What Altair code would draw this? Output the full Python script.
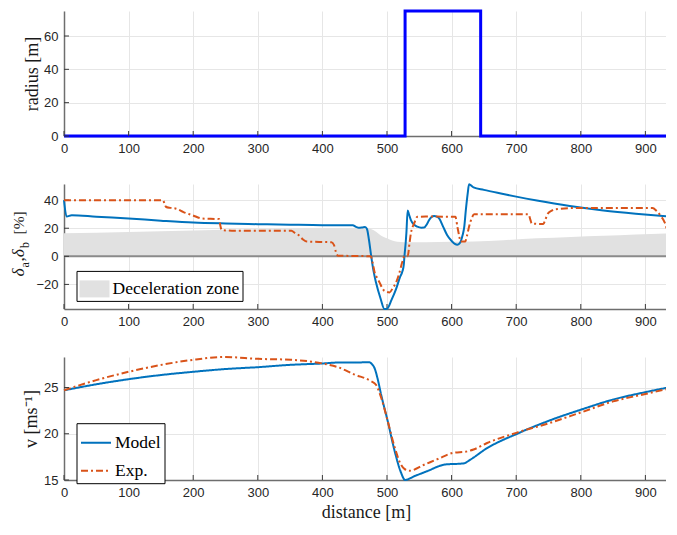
import altair as alt
import pandas as pd

# ---------------- data ----------------
X_MAX = 935
X_TICKS = [0, 100, 200, 300, 400, 500, 600, 700, 800, 900]
R_TICKS = [0, 20, 40, 60]
D_TICKS = [-20, 0, 20, 40]
V_TICKS = [15, 20, 25]

radius_dist = [0, 528, 528, 645, 645, 935]
radius_val = [0, 0, 75, 75, 0, 0]

delta_model_dist = [0, 4, 12, 50, 100, 150, 200, 250, 300, 350, 400, 447, 452, 456, 462, 466, 469,
                    472, 475.6, 479, 483, 490, 496, 500, 507, 514, 520, 524, 526, 527, 529, 530,
                    532, 534, 537, 542, 547, 553, 557.5, 562, 565, 569, 573, 577, 581, 587, 593,
                    600, 605, 609, 612, 614, 617, 619.6, 622, 625, 627, 630, 634, 650, 680, 700,
                    732, 783, 835, 885, 935]
delta_model_val = [40, 28.3, 29.3, 28.2, 26.9, 25.4, 24.1, 23.4, 22.9, 22.5, 22.2, 22.2, 21.0, 20.3,
                   20.6, 20.9, 19.5, 12, 0, -10, -18.7, -30, -37.5, -37.3, -31, -23.4, -15, -10.5,
                   -6, 0, 10, 16.4, 32.7, 30, 25.7, 22.5, 21.1, 20.4, 20.5, 23, 25.7, 28, 28.8,
                   28.3, 26.9, 21, 15.2, 11, 8.8, 8.2, 9, 10.5, 15, 21, 32.7, 45, 51.4, 50.5,
                   49.1, 47.3, 44.4, 42.5, 39.7, 35.8, 32.7, 30.4, 28.5]

delta_exp_dist = [0, 153, 156, 158, 165, 173.6, 185, 199, 214, 240, 242, 244, 260, 352, 358, 363,
                  370, 376, 414, 418, 421, 424, 475, 478, 481, 485, 488.6, 492, 496, 504, 509, 514,
                  519, 524, 527, 532, 535, 537, 542, 547, 560, 606, 609, 612, 614, 621, 624, 627,
                  631, 635, 719, 722, 724, 742, 745, 749, 755, 760, 793, 911, 917, 923, 930, 935]
delta_exp_val = [40, 40, 37, 35.1, 34.5, 33.9, 31.5, 29.2, 26.9, 26.5, 22, 18.7, 18.3, 18.2, 16.5,
                 15.2, 12, 10.5, 10.0, 8, 3, 0.5, 0, -5, -11.7, -15.5, -18.7, -22, -24.6, -25.7,
                 -22.5, -18.7, -12, -3.5, 0, 0, 10, 16.4, 23.4, 28.1, 28.3, 28.1, 21, 14, 10.5,
                 10.5, 15, 21, 27, 29.9, 30, 26, 23.4, 23, 26, 30.4, 32.5, 33.5, 34.4, 34.4, 32.5,
                 29.2, 24, 16.4]

zone_dist = [0, 100, 200, 300, 400, 470, 476, 483, 490, 500, 508, 516, 527, 560, 600, 634, 680,
             732, 785, 835, 885, 935]
zone_val = [16.4, 17.4, 18.4, 19.3, 20.1, 20.1, 19.2, 17.5, 15, 12.8, 11.2, 10.3, 10.0, 10.1, 10.3,
            10.5, 11.5, 12.8, 13.8, 14.6, 15.5, 16.4]

v_model_dist = [0, 50, 100, 150, 200, 250, 300, 350, 400, 424, 473, 477, 481, 486, 491, 501, 511.6,
                521.7, 528, 542, 562, 588, 598, 610, 619, 629, 655, 680, 700, 716, 732, 758, 800,
                850, 900, 935]
v_model_val = [24.7, 25.35, 25.9, 26.35, 26.7, 27.0, 27.2, 27.45, 27.6, 27.7, 27.72, 27.5, 27.05,
               25.8, 24.2, 21.4, 18.2, 15.8, 15.0, 15.4, 15.95, 16.65, 16.72, 16.75, 16.8, 17.2,
               18.45, 19.35, 19.95, 20.45, 20.9, 21.6, 22.6, 23.7, 24.5, 25.0]

v_exp_dist = [0, 50, 100, 147, 200, 250, 300, 351, 400, 424, 450, 475, 483, 491, 501, 511.6, 521.7,
              527, 534.5, 557.5, 578, 604, 621.5, 634, 655, 700, 716, 732, 800, 850, 900, 935]
v_exp_val = [24.7, 25.8, 26.7, 27.4, 28.0, 28.3, 28.1, 28.0, 27.6, 27.2, 26.4, 25.7, 25.3, 23.9,
             21.4, 18.6, 16.65, 16.2, 16.0, 16.65, 17.25, 17.96, 18.06, 18.3, 19.0, 20.1, 20.45,
             20.75, 22.3, 23.5, 24.3, 24.86]

SERIES = ["Model", "Exp."]

# ---------------- tables ----------------
df_r = pd.DataFrame({"d": radius_dist, "r": radius_val, "i": range(len(radius_dist))})
df_dm = pd.DataFrame({"d": delta_model_dist, "v": delta_model_val})
df_de = pd.DataFrame({"d": delta_exp_dist, "v": delta_exp_val})
df_z = pd.DataFrame({"d": zone_dist, "v": zone_val, "zone": "Deceleration zone"})
df_v = pd.concat([
    pd.DataFrame({"d": v_model_dist, "v": v_model_val, "series": "Model"}),
    pd.DataFrame({"d": v_exp_dist, "v": v_exp_val, "series": "Exp."}),
], ignore_index=True)
df_zero = pd.DataFrame({"z": [0]})
df_xt = pd.DataFrame({"t": X_TICKS})

# ---------------- styling ----------------
W = 604
H1, H2, H3 = 125, 125, 123
GAP = 48
BLUE = "#0072BD"
ORANGE = "#D95319"
DASHDOT = [7, 3, 2, 3]
SERIF = "Liberation Serif"
TICK_COLOR = "#3a3a3a"

xs = alt.Scale(domain=[0, X_MAX], nice=False, zero=False)
ys1 = alt.Scale(domain=[0, 75], nice=False)
ys2 = alt.Scale(domain=[-37.5, 51.5], nice=False, zero=False)
ys3 = alt.Scale(domain=[15, 28.3], nice=False, zero=False)


def main_x(title=None):
    kw = dict(values=X_TICKS, format="d", grid=True, ticks=False, labelPadding=6,
              labelFlush=False)
    if title:
        kw.update(title=title, titleX=W / 2, titleY=37.5, titleBaseline="alphabetic",
                  titleAlign="center")
    else:
        kw["title"] = None
    return alt.Axis(**kw)


def main_y(vals, title=None, tx=-27, ty=62):
    kw = dict(values=vals, grid=True, ticks=False, labelPadding=6, labelFlush=False)
    if title:
        kw.update(title=title, titleAngle=270, titleX=tx, titleY=ty, titleAlign="center",
                  titleBaseline="alphabetic")
    else:
        kw["title"] = None
    return alt.Axis(**kw)


def inner_ticks(yscale, yvals, h):
    """Short inward-pointing tick marks, as MATLAB draws them."""
    xt = alt.Chart(df_xt).mark_rule(color=TICK_COLOR, strokeWidth=1).encode(
        x=alt.X("t:Q", scale=xs, axis=None), y=alt.value(h), y2=alt.value(h - 5))
    yt = alt.Chart(pd.DataFrame({"t": yvals})).mark_rule(color=TICK_COLOR, strokeWidth=1).encode(
        y=alt.Y("t:Q", scale=yscale, axis=None), x=alt.value(0), x2=alt.value(5))
    return [xt, yt]


# ---------------- panel 1: radius ----------------
r_line = alt.Chart(df_r).mark_line(color="#0000FF", strokeWidth=3).encode(
    x=alt.X("d:Q", scale=xs, axis=main_x()),
    y=alt.Y("r:Q", scale=ys1, axis=main_y(R_TICKS, "radius [m]", -26.5, 62.5)),
    order="i:Q",
)
top = alt.layer(r_line, *inner_ticks(ys1, R_TICKS, H1)).resolve_axis(
    x="independent", y="independent").properties(width=W, height=H1)

# ---------------- panel 2: deltas ----------------
zone = alt.Chart(df_z).mark_area(interpolate="monotone").encode(
    x=alt.X("d:Q", scale=xs, axis=main_x()),
    y=alt.Y("v:Q", scale=ys2, axis=main_y(D_TICKS)),
    y2=alt.datum(0),
    fill=alt.Fill("zone:N", scale=alt.Scale(domain=["Deceleration zone"], range=["#e1e1e1"]),
                  legend=alt.Legend(orient="none", legendX=12.5, legendY=86.9, title=None,
                                    symbolType="M-1,-0.567H1V0.567H-1Z", symbolSize=900,
                                    symbolStrokeWidth=0, symbolOpacity=1,
                                    labelFont=SERIF, labelFontSize=17.5, labelColor="black",
                                    labelOffset=3, labelLimit=400, padding=3,
                                    strokeColor="black", fillColor="white", cornerRadius=0)),
)
zero_rule = alt.Chart(df_zero).mark_rule(color="#8a8a8a", strokeWidth=2).encode(
    y=alt.Y("z:Q", scale=ys2, axis=None))
dm_line = alt.Chart(df_dm).mark_line(color=BLUE, strokeWidth=2, interpolate="monotone").encode(
    x=alt.X("d:Q", scale=xs, axis=None), y=alt.Y("v:Q", scale=ys2, axis=None))
de_line = alt.Chart(df_de).mark_line(color=ORANGE, strokeWidth=2, strokeDash=DASHDOT,
                                     interpolate="monotone").encode(
    x=alt.X("d:Q", scale=xs, axis=None), y=alt.Y("v:Q", scale=ys2, axis=None))


def title_piece(txt, x, y, size, italic=False):
    return alt.Chart(df_zero).mark_text(
        text=txt, angle=270, align="left", baseline="alphabetic", font=SERIF, fontSize=size,
        fontStyle="italic" if italic else "normal", color="#1a1a1a",
    ).encode(x=alt.value(x), y=alt.value(y))


MB, SB = -40.5, -35  # baselines of main text and subscripts (px from plot's left edge)
ylab2 = [
    title_piece("δ", MB, 92.5, 17.5, True),
    title_piece("a", SB, 83.5, 12),
    title_piece(",", MB, 77.6, 17.5),
    title_piece("δ", MB, 73.3, 17.5, True),
    title_piece("b", SB, 63.9, 12),
    title_piece("[%]", MB, 50.5, 15.5),
]

mid = alt.layer(zone, zero_rule, *inner_ticks(ys2, D_TICKS, H2), dm_line, de_line,
                *ylab2).resolve_axis(x="independent", y="independent").properties(
    width=W, height=H2)

# ---------------- panel 3: speed ----------------
v_legend = alt.Legend(orient="none", legendX=12.5, legendY=66.2, title=None,
                      symbolType="stroke", symbolSize=900, symbolStrokeWidth=2,
                      labelFont=SERIF, labelFontSize=17.5, labelColor="black",
                      labelOffset=3, rowPadding=3, padding=3.5,
                      strokeColor="black", fillColor="white", cornerRadius=0)
v_lines = alt.Chart(df_v).mark_line(strokeWidth=2, interpolate="monotone").encode(
    x=alt.X("d:Q", scale=xs, axis=main_x("distance [m]")),
    y=alt.Y("v:Q", scale=ys3, axis=main_y(V_TICKS, "v [ms⁻¹]", -27.5, 61.5)),
    color=alt.Color("series:N", scale=alt.Scale(domain=SERIES, range=[BLUE, ORANGE]),
                    legend=v_legend),
    strokeDash=alt.StrokeDash("series:N",
                              scale=alt.Scale(domain=SERIES, range=[[1, 0], DASHDOT]),
                              legend=v_legend),
)
bot = alt.layer(v_lines, *inner_ticks(ys3, V_TICKS, H3)).resolve_axis(
    x="independent", y="independent").properties(width=W, height=H3)

chart = alt.vconcat(top, mid, bot, spacing=GAP, bounds="flush").resolve_scale(
    fill="independent", color="independent", strokeDash="independent"
).properties(
    padding={"left": 0, "top": -4, "right": -9, "bottom": 0}
).configure_view(stroke="transparent").configure_axis(
    labelFont="Liberation Sans", labelFontSize=13, labelColor="#262626",
    domainColor="#6e6e6e", domainWidth=1.5, gridColor="#e6e6e6", gridWidth=1,
    titleFont=SERIF, titleFontSize=18, titleFontWeight="normal", titleColor="#1a1a1a",
)

chart.save("out.html", embed_options={"renderer": "svg", "actions": False})
